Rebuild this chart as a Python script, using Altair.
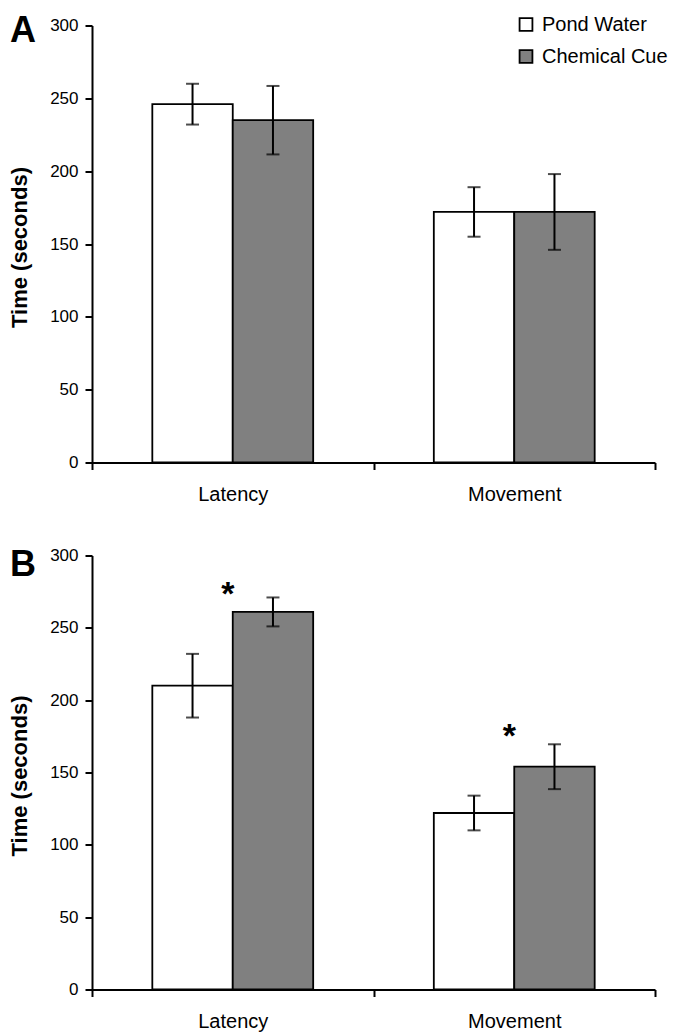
import altair as alt
import pandas as pd

measures = ["Latency", "Movement"]
treatments = ["Pond Water", "Chemical Cue"]
fills = ["white", "#808080"]
y_ticks = [0, 50, 100, 150, 200, 250, 300]

# Panel A (means and error half-widths)
a_pond_mean = [246, 172]
a_pond_err = [14, 17]
a_cue_mean = [235, 172]
a_cue_err = [23.5, 26]

# Panel B
b_pond_mean = [210, 122]
b_pond_err = [22, 12]
b_cue_mean = [261, 154]
b_cue_err = [10, 15.5]
b_star_y = [279, 181]
b_star_txt = ["*", "*"]

FONT = "Liberation Sans"
W = 563


def frame(pm, pe, cm, ce):
    rows = []
    for i, m in enumerate(measures):
        rows.append(dict(measure=m, treatment=treatments[0], mean=pm[i],
                         lo=pm[i] - pe[i], hi=pm[i] + pe[i]))
        rows.append(dict(measure=m, treatment=treatments[1], mean=cm[i],
                         lo=cm[i] - ce[i], hi=cm[i] + ce[i]))
    return pd.DataFrame(rows)


def panel(df, h, letter, letter_y, show_legend, stars=None):
    x = alt.X("measure:N", sort=measures, title=None,
              scale=alt.Scale(paddingInner=0, paddingOuter=0),
              axis=alt.Axis(labelAngle=0, tickBand="extent", labelFontSize=20,
                            labelPadding=15, tickSize=7, tickWidth=2,
                            domainWidth=2, domainColor="black", tickColor="black",
                            labelColor="black", labelFont=FONT))
    xo = alt.XOffset("treatment:N", sort=treatments,
                     scale=alt.Scale(paddingInner=0, paddingOuter=0.75))
    yax = alt.Axis(values=y_ticks, title="Time (seconds)", grid=False,
                   labelFontSize=17, labelPadding=7, labelFont=FONT,
                   labelColor="black", tickSize=7, tickWidth=2, tickColor="black",
                   domainWidth=2, domainColor="black",
                   titleFont=FONT, titleFontSize=22, titleFontWeight="bold",
                   titleColor="black", titleX=-66, titleY=h / 2 + 3,
                   titleBaseline="alphabetic")
    yscale = alt.Scale(domain=[0, 300], nice=False, zero=True)
    if show_legend:
        leg = alt.Legend(title=None, orient="none", legendX=424, legendY=-11,
                         symbolType="square", symbolSize=165,
                         symbolStrokeColor="black", symbolStrokeWidth=1.8,
                         labelFontSize=20, labelFont=FONT, labelColor="black",
                         rowPadding=10, labelOffset=6, padding=0)
    else:
        leg = None
    bars = alt.Chart(df).mark_bar(stroke="black", strokeWidth=1.8).encode(
        x=x, xOffset=xo,
        y=alt.Y("mean:Q", scale=yscale, axis=yax),
        fill=alt.Fill("treatment:N", sort=treatments,
                      scale=alt.Scale(domain=treatments, range=fills),
                      legend=leg),
    )
    rules = alt.Chart(df).mark_rule(color="black", strokeWidth=2).encode(
        x=x, xOffset=xo, y=alt.Y("lo:Q", scale=yscale), y2="hi:Q")
    cap_hi = alt.Chart(df).mark_tick(color="black", thickness=2, size=13).encode(
        x=x, xOffset=xo, y=alt.Y("hi:Q", scale=yscale))
    cap_lo = alt.Chart(df).mark_tick(color="black", thickness=2, size=13).encode(
        x=x, xOffset=xo, y=alt.Y("lo:Q", scale=yscale))
    lab = alt.Chart(pd.DataFrame({"t": [letter]})).mark_text(
        align="left", baseline="top", fontSize=36, fontWeight="bold",
        font=FONT, color="black").encode(
        x=alt.value(-82), y=alt.value(letter_y), text="t:N")
    layers = [bars, rules, cap_hi, cap_lo, lab]
    if stars is not None:
        sdf = pd.DataFrame({"measure": measures, "sy": stars[0], "st": stars[1]})
        st = alt.Chart(sdf).mark_text(fontSize=34, font=FONT, fontWeight="bold",
                                      color="black", baseline="alphabetic",
                                      dx=-5, dy=19).encode(
            x=alt.X("measure:N", sort=measures), y=alt.Y("sy:Q", scale=yscale),
            text="st:N")
        layers.append(st)
    return alt.layer(*layers).properties(width=W, height=h)


pa = panel(frame(a_pond_mean, a_pond_err, a_cue_mean, a_cue_err), 437, "A", -11.5, True)
pb = panel(frame(b_pond_mean, b_pond_err, b_cue_mean, b_cue_err), 434, "B", -8, False,
           stars=(b_star_y, b_star_txt))

chart = alt.vconcat(pa, pb, spacing=93, bounds="flush").resolve_scale(
    fill="independent").properties(
    padding={"top": 4.5, "left": 0, "right": 0, "bottom": 0}
).configure_view(stroke=None)

chart.save("out.html", embed_options={"renderer": "svg", "actions": False})
